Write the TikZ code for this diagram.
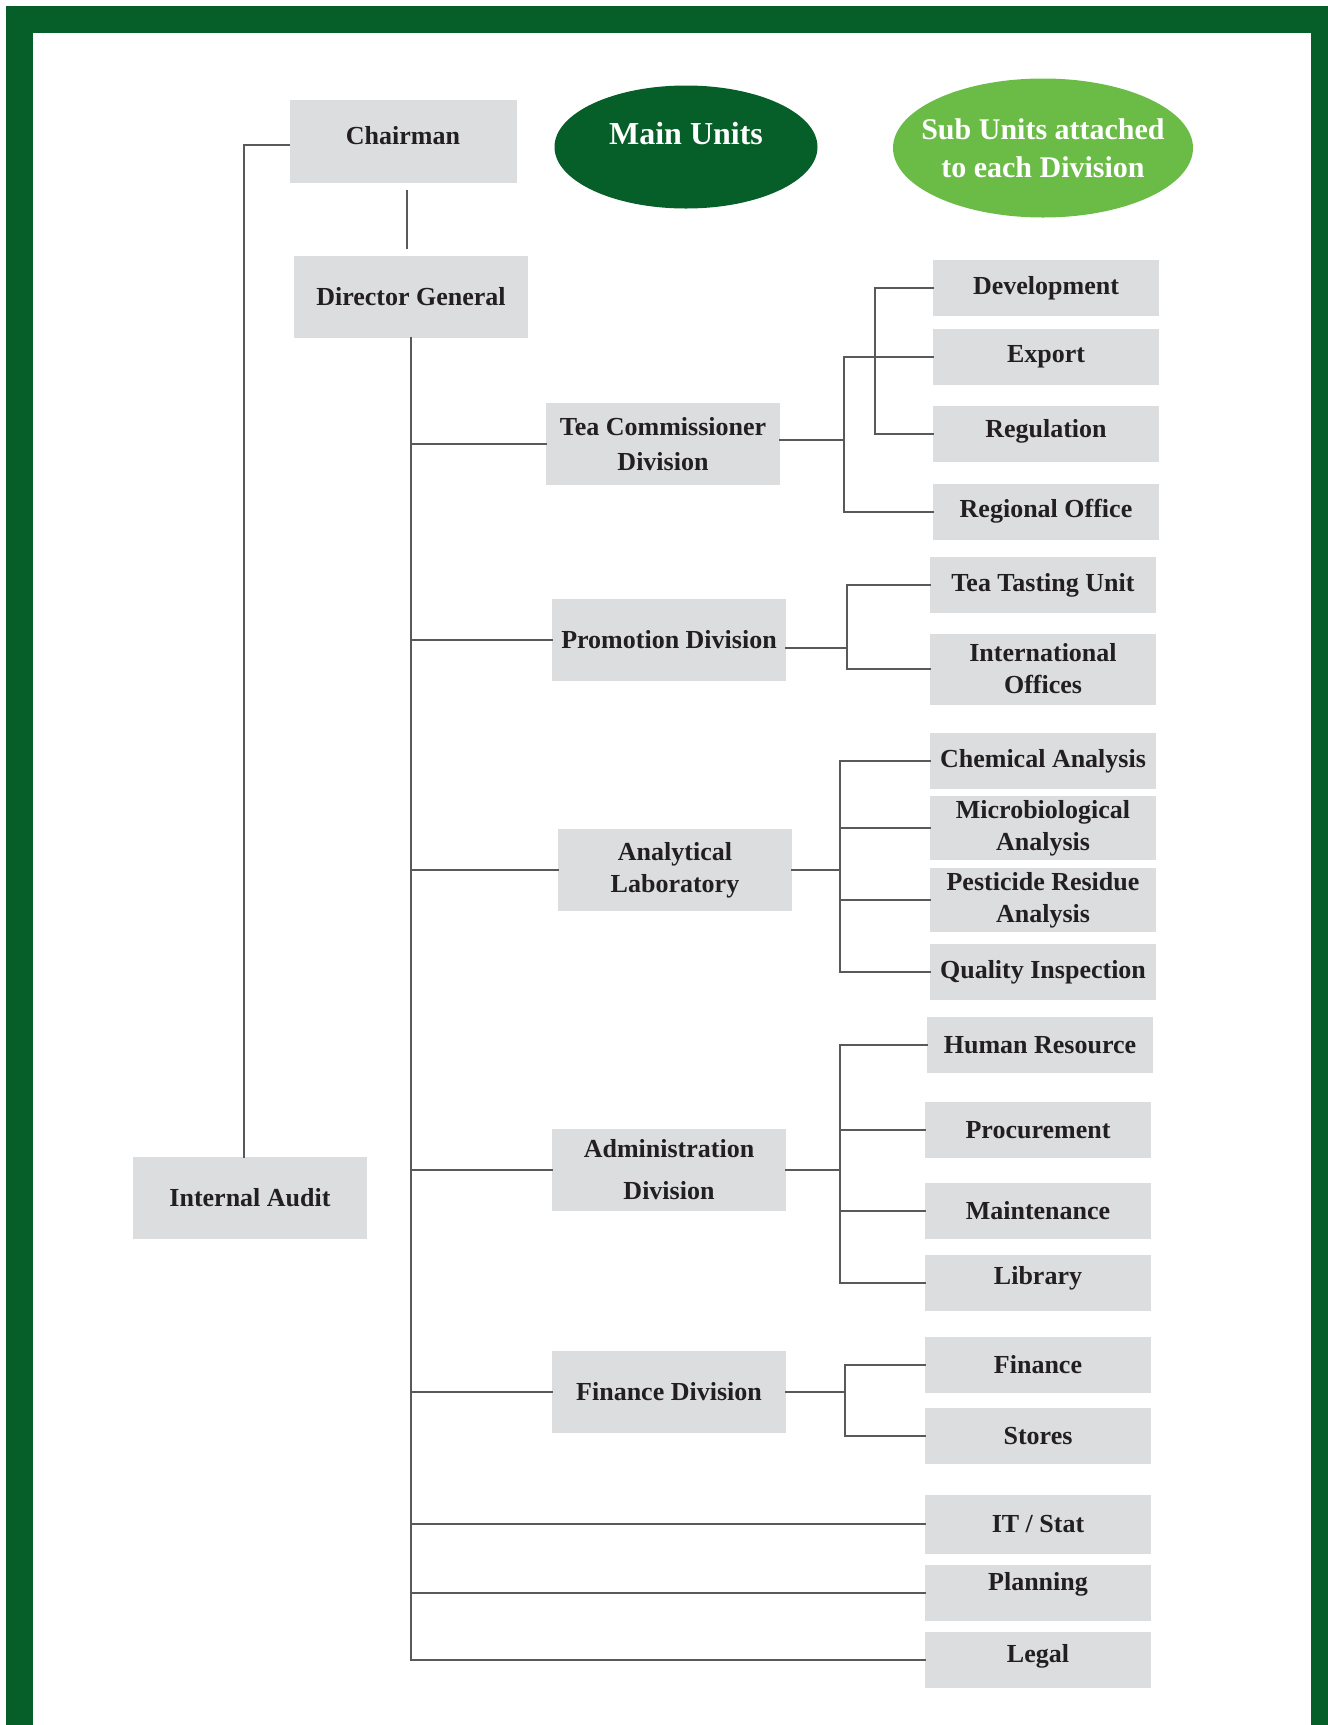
\documentclass[tikz,border=0pt]{standalone}
\usepackage{fontspec}
\setmainfont{Liberation Serif}
\usepackage{xcolor}
\usepackage{tikz}
\usetikzlibrary{shapes.geometric, calc}
\definecolor{boardgreen}{RGB}{6, 94, 40}
\definecolor{leafgreen}{RGB}{107, 187, 71}
\definecolor{boxgray}{RGB}{220, 221, 223}
\definecolor{linegray}{RGB}{88, 89, 91}
\definecolor{inkgray}{RGB}{35, 31, 32}

\begin{document}
\begin{tikzpicture}[
  x=0.5pt, y=-0.5pt,
  every node/.style={font=\fontsize{13}{16}\selectfont\bfseries, text=inkgray},
  unit/.style={fill=boxgray, minimum width=117pt, minimum height=41pt, align=center, inner sep=2pt},
  subunit/.style={fill=boxgray, minimum width=113pt, minimum height=28pt, align=center, inner sep=2pt},
  legend/.style={ellipse, inner sep=-8pt, text=white, align=center},
  conn/.style={draw=linegray, line width=1.25pt, line cap=rect},
  lift/.style={text depth=#1}
]

  % Frame
  \useasboundingbox (0,0) rectangle (1328,1725);
  \fill[boardgreen] (6,6) rectangle (1328,1725);
  \fill[white] (33,33) rectangle (1311,1725);

  % Top of the chart and legend
  \node[unit, minimum width=113.5pt, minimum height=41.5pt, lift=6pt] (chair) at (403, 141) {Chairman};
  \node[unit] (dg) at (411, 297) {Director General};
  \node[unit] (ia) at (250, 1198) {Internal Audit};
  \node[legend, fill=boardgreen, minimum width=131.5pt, minimum height=61.5pt, lift=14pt, font=\fontsize{16}{19}\selectfont\bfseries] (mainu) at (686, 147) {Main Units};
  \node[legend, fill=leafgreen, minimum width=150pt, minimum height=69.5pt, font=\fontsize{15}{19}\selectfont\bfseries] (subu) at (1043, 148) {Sub Units attached\\to each Division};

  % Main units
  \node[unit] (tc) at (663, 444) {Tea Commissioner\\[1.5pt]Division};
  \node[unit] (pd) at (669, 640) {Promotion Division};
  \node[unit] (al) at (675, 870) {Analytical\\Laboratory};
  \node[unit] (ad) at (669, 1170) {Administration\\[5pt]Division};
  \node[unit] (fd) at (669, 1392) {Finance Division};

  % Sub units
  \node[subunit] (dev) at (1046, 288) {Development};
  \node[subunit] (exp) at (1046, 357) {Export};
  \node[subunit, lift=6pt] (reg) at (1046, 434) {Regulation};
  \node[subunit, lift=4pt] (ro) at (1046, 512) {Regional Office};
  \node[subunit] (ttu) at (1043, 585) {Tea Tasting Unit};
  \node[subunit, minimum height=35.5pt] (io) at (1043, 669) {International\\Offices};
  \node[subunit] (chem) at (1043, 761) {Chemical Analysis};
  \node[subunit] (micro) at (1043, 828) {Microbiological\\Analysis};
  \node[subunit] (pest) at (1043, 900) {Pesticide Residue\\Analysis};
  \node[subunit] (qi) at (1043, 972) {Quality Inspection};
  \node[subunit] (hr) at (1040, 1045) {Human Resource};
  \node[subunit] (proc) at (1038, 1130) {Procurement};
  \node[subunit] (maint) at (1038, 1211) {Maintenance};
  \node[subunit, lift=8pt] (lib) at (1038, 1283) {Library};
  \node[subunit] (fin) at (1038, 1365) {Finance};
  \node[subunit] (sto) at (1038, 1436) {Stores};
  \node[subunit, minimum height=29.5pt] (it) at (1038, 1524) {IT / Stat};
  \node[subunit, lift=12pt] (plan) at (1038, 1593) {Planning};
  \node[subunit, lift=7pt] (legal) at (1038, 1660) {Legal};

  % Bus lines for the sub units
  \coordinate (tcbus) at (844, 0);
  \coordinate (devbus) at (875, 0);
  \coordinate (pdbus) at (847, 0);
  \coordinate (albus) at (840, 0);
  \coordinate (adbus) at (840, 0);
  \coordinate (fdbus) at (845, 0);

  % Chairman, Director General, Internal Audit
  \draw[conn, shorten <=4pt, shorten >=4pt] ([xshift=2pt]chair.south) -- ([xshift=2pt]chair.south |- dg.north);
  \draw[conn] ([yshift=-2pt]chair.west) -| ([xshift=-3pt]ia.north);

  % Spine from the Director General
  \draw[conn] (dg.south) -- (dg.south |- legal.west);
  \foreach \d in {tc, pd, al, ad, fd, it, plan, legal}
    \draw[conn] (dg.south |- \d.west) -- (\d.west);

  % Tea Commissioner Division
  \draw[conn] ([yshift=2pt]tc.east) -- ([yshift=2pt]tc.east -| tcbus);
  \draw[conn] (tcbus |- exp.west) -- (tcbus |- ro.west);
  \draw[conn] (devbus |- dev.west) -- (devbus |- reg.west);
  \foreach \s in {exp, ro}
    \draw[conn] (tcbus |- \s.west) -- (\s.west);
  \foreach \s in {dev, reg}
    \draw[conn] (devbus |- \s.west) -- (\s.west);

  % Promotion Division
  \draw[conn] ([yshift=-4pt]pd.east) -- ([yshift=-4pt]pd.east -| pdbus);
  \draw[conn] (pdbus |- ttu.west) -- (pdbus |- io.west);
  \foreach \s in {ttu, io}
    \draw[conn] (pdbus |- \s.west) -- (\s.west);

  % Analytical Laboratory
  \draw[conn] (al.east) -- (al.east -| albus);
  \draw[conn] (albus |- chem.west) -- (albus |- qi.west);
  \foreach \s in {chem, micro, pest, qi}
    \draw[conn] (albus |- \s.west) -- (\s.west);

  % Administration Division
  \draw[conn] (ad.east) -- (ad.east -| adbus);
  \draw[conn] (adbus |- hr.west) -- (adbus |- lib.west);
  \foreach \s in {hr, proc, maint, lib}
    \draw[conn] (adbus |- \s.west) -- (\s.west);

  % Finance Division
  \draw[conn] (fd.east) -- (fd.east -| fdbus);
  \draw[conn] (fdbus |- fin.west) -- (fdbus |- sto.west);
  \foreach \s in {fin, sto}
    \draw[conn] (fdbus |- \s.west) -- (\s.west);

\end{tikzpicture}
\end{document}
